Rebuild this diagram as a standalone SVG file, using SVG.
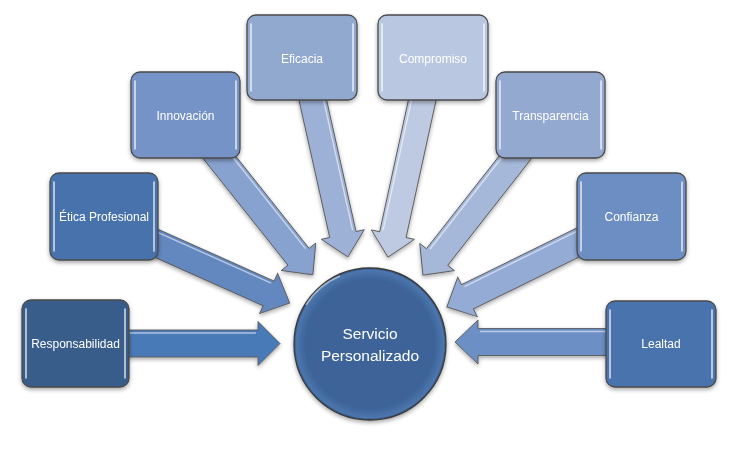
<svg xmlns="http://www.w3.org/2000/svg" width="732" height="472" viewBox="0 0 732 472">
<defs>
<filter id="sh" x="-20%" y="-20%" width="140%" height="150%">
<feGaussianBlur in="SourceAlpha" stdDeviation="2"/>
<feOffset dx="0" dy="2" result="b"/>
<feComponentTransfer><feFuncA type="linear" slope="0.35"/></feComponentTransfer>
<feMerge><feMergeNode/><feMergeNode in="SourceGraphic"/></feMerge>
</filter>
<radialGradient id="cg" cx="50%" cy="50%" r="50%">
<stop offset="0.85" stop-color="#3C6499"/>
<stop offset="0.97" stop-color="#4C76AD"/>
<stop offset="1" stop-color="#2E5283"/>
</radialGradient>
</defs>
<style>
.box{stroke:#4a4a4a;stroke-width:1.3}
.hl{stroke:#ffffff;stroke-width:1.6;stroke-opacity:0.75;stroke-linecap:round}
.arr{stroke:#5a5a5a;stroke-width:0.9;stroke-linejoin:miter}
.ahl{stroke:#ffffff;stroke-width:1.4;stroke-opacity:0.55}
.t{font-family:"Liberation Sans",Arial,sans-serif;font-size:12px;fill:#ffffff;text-anchor:middle}
.ct{font-family:"Liberation Sans",Arial,sans-serif;font-size:15.5px;fill:#ffffff;text-anchor:middle}
</style>
<rect width="732" height="472" fill="#ffffff"/>
<g id="connectors" filter="url(#sh)">
<g transform="translate(125,343.5)"><path class="arr" fill="#4A7AB8" d="M0,-13.5 H133 V-22 L155,0 L133,22 V13.5 H0 Z"/><line class="ahl" x1="0" y1="-10.5" x2="131" y2="-10.5"/></g>
<g transform="translate(150,240.4) rotate(24.1)"><path class="arr" fill="#6388C0" d="M0,-13.5 H130 V-22 L153,0 L130,22 V13.5 H0 Z"/><line class="ahl" x1="0" y1="-10.5" x2="128" y2="-10.5"/></g>
<g transform="translate(212,148) rotate(51.5)"><path class="arr" fill="#88A2D0" d="M0,-13.5 H139 V-22 L162,0 L139,22 V13.5 H0 Z"/><line class="ahl" x1="0" y1="-10.5" x2="137" y2="-10.5"/></g>
<g transform="translate(311,92) rotate(77.4)"><path class="arr" fill="#9DB1D6" d="M0,-13.5 H146 V-22 L169,0 L146,22 V13.5 H0 Z"/><line class="ahl" x1="0" y1="-10.5" x2="144" y2="-10.5"/></g>
<g transform="translate(424,92) rotate(102.3)"><path class="arr" fill="#BDCAE2" d="M0,-13.5 H146 V-22 L169,0 L146,22 V13.5 H0 Z"/><line class="ahl" x1="0" y1="10.5" x2="144" y2="10.5"/></g>
<g transform="translate(521,150) rotate(128.1)"><path class="arr" fill="#A6B8DA" d="M0,-13.5 H136 V-22 L159,0 L136,22 V13.5 H0 Z"/><line class="ahl" x1="0" y1="10.5" x2="134" y2="10.5"/></g>
<g transform="translate(585,239) rotate(153.8)"><path class="arr" fill="#93ABD5" d="M0,-13.5 H131 V-22 L154,0 L131,22 V13.5 H0 Z"/><line class="ahl" x1="0" y1="10.5" x2="129" y2="10.5"/></g>
<g transform="translate(612,342) rotate(180)"><path class="arr" fill="#6C8FC5" d="M0,-13.5 H134 V-22 L157,0 L134,22 V13.5 H0 Z"/><line class="ahl" x1="0" y1="10.5" x2="132" y2="10.5"/></g>
</g>
<g id="center" filter="url(#sh)">
<circle cx="370" cy="344" r="76" fill="url(#cg)" stroke="#3a3a3a" stroke-width="1.3"/>
<path d="M306,305 A73,73 0 0 1 340,276" fill="none" stroke="#ffffff" stroke-opacity="0.5" stroke-width="1.5"/>
<text class="ct" x="370" y="339">Servicio</text>
<text class="ct" x="370" y="361">Personalizado</text>
</g>
<g id="n-responsabilidad" filter="url(#sh)">
<rect class="box" x="22" y="300" width="107" height="87" rx="9" fill="#385D8A"/>
<line class="hl" x1="26" y1="309" x2="26" y2="378"/><line class="hl" x1="125" y1="309" x2="125" y2="378"/>
<text class="t" x="75.5" y="348">Responsabilidad</text>
</g>
<g id="n-etica" filter="url(#sh)">
<rect class="box" x="50" y="173" width="108" height="87" rx="9" fill="#4672AC"/>
<line class="hl" x1="54" y1="182" x2="54" y2="251"/><line class="hl" x1="154" y1="182" x2="154" y2="251"/>
<text class="t" x="104" y="221">Ética Profesional</text>
</g>
<g id="n-innovacion" filter="url(#sh)">
<rect class="box" x="131" y="72" width="109" height="86" rx="9" fill="#7593C6"/>
<line class="hl" x1="135" y1="81" x2="135" y2="149"/><line class="hl" x1="236" y1="81" x2="236" y2="149"/>
<text class="t" x="185.5" y="119.5">Innovación</text>
</g>
<g id="n-eficacia" filter="url(#sh)">
<rect class="box" x="247" y="15" width="110" height="85" rx="9" fill="#91A8CF"/>
<line class="hl" x1="251" y1="24" x2="251" y2="91"/><line class="hl" x1="353" y1="24" x2="353" y2="91"/>
<text class="t" x="302" y="62.5">Eficacia</text>
</g>
<g id="n-compromiso" filter="url(#sh)">
<rect class="box" x="378" y="15" width="110" height="85" rx="9" fill="#B9C7E0"/>
<line class="hl" x1="382" y1="24" x2="382" y2="91"/><line class="hl" x1="484" y1="24" x2="484" y2="91"/>
<text class="t" x="433" y="62.5">Compromiso</text>
</g>
<g id="n-transparencia" filter="url(#sh)">
<rect class="box" x="496" y="72" width="109" height="86" rx="9" fill="#93A9D0"/>
<line class="hl" x1="500" y1="81" x2="500" y2="149"/><line class="hl" x1="601" y1="81" x2="601" y2="149"/>
<text class="t" x="550.5" y="119.5">Transparencia</text>
</g>
<g id="n-confianza" filter="url(#sh)">
<rect class="box" x="577" y="173" width="109" height="87" rx="9" fill="#6D8EC2"/>
<line class="hl" x1="581" y1="182" x2="581" y2="251"/><line class="hl" x1="682" y1="182" x2="682" y2="251"/>
<text class="t" x="631.5" y="221">Confianza</text>
</g>
<g id="n-lealtad" filter="url(#sh)">
<rect class="box" x="606" y="301" width="110" height="86" rx="9" fill="#4A73AD"/>
<line class="hl" x1="610" y1="310" x2="610" y2="378"/><line class="hl" x1="712" y1="310" x2="712" y2="378"/>
<text class="t" x="661" y="348">Lealtad</text>
</g>
</svg>
